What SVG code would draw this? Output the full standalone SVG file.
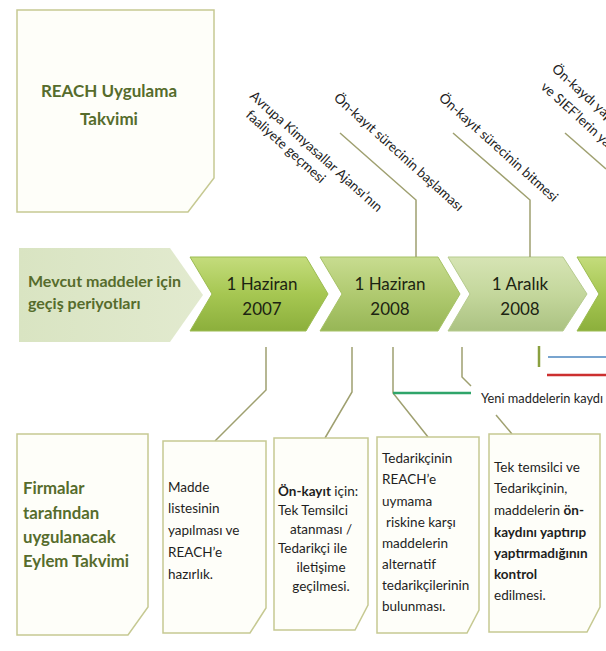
<svg xmlns="http://www.w3.org/2000/svg" width="606" height="651" viewBox="0 0 606 651">
<defs>
<linearGradient id="g1" x1="0" y1="0" x2="0" y2="1">
<stop offset="0" stop-color="#c4dc7c"/><stop offset="0.5" stop-color="#a6c752"/><stop offset="1" stop-color="#8caf3c"/>
</linearGradient>
<linearGradient id="g2" x1="0" y1="0" x2="0" y2="1">
<stop offset="0" stop-color="#c8dc90"/><stop offset="0.5" stop-color="#b0ca70"/><stop offset="1" stop-color="#97b656"/>
</linearGradient>
<linearGradient id="g3" x1="0" y1="0" x2="0" y2="1">
<stop offset="0" stop-color="#d6e4b4"/><stop offset="0.5" stop-color="#c4d79c"/><stop offset="1" stop-color="#abc282"/>
</linearGradient>
<linearGradient id="gb" x1="0" y1="0" x2="1" y2="0">
<stop offset="0" stop-color="#d9e4c2"/><stop offset="1" stop-color="#e2eacf"/>
</linearGradient>
</defs>
<style>
.box{fill:#fefef9;stroke:#c6c992;stroke-width:1.5}
.ln{fill:none;stroke:#9fa070;stroke-width:1.5}
.t{font-family:Lato,"Liberation Sans",sans-serif;fill:#1e1e1e}
.bt{font-size:13.5px}
.rt{font-size:13.5px}
.dt{font-size:17px;fill:#1c2412}
.h{font-weight:bold;fill:#566c2c}
.b{font-weight:bold}
</style>
<rect width="606" height="651" fill="#ffffff"/>

<g id="title-box">
<polygon class="box" points="17,10 214,10 214,178 188,212 17,212"/>
<text class="t h" x="109" y="97" font-size="17" text-anchor="middle">REACH Uygulama</text>
<text class="t h" x="109" y="125" font-size="17" text-anchor="middle">Takvimi</text>
</g>

<g id="annotations">
<text class="t rt" transform="translate(249,97) rotate(42)">Avrupa Kimyasallar Ajansı’nın</text>
<text class="t rt" transform="translate(245,116) rotate(42)">faaliyete geçmesi</text>
<text class="t rt" transform="translate(333,99) rotate(42)">Ön-kayıt sürecinin başlaması</text>
<text class="t rt" transform="translate(438,99) rotate(42)">Ön-kayıt sürecinin bitmesi</text>
<text class="t rt" transform="translate(551,70) rotate(42)">Ön-kaydı yap</text>
<text class="t rt" transform="translate(540,88) rotate(42)">ve SIEF’lerin ya</text>
</g>

<g id="banner">
<polygon points="19,248 170,248 203,295 170,342 19,342" fill="url(#gb)"/>
<text class="t h" x="28" y="287" font-size="16">Mevcut maddeler için</text>
<text class="t h" x="28" y="309" font-size="16">geçiş periyotları</text>
</g>

<g id="chevron-2007">
<polygon points="190,257 306,257 328,294 306,331 190,331 212,294" fill="url(#g1)" stroke="#9cbc52" stroke-width="1"/>
<text class="t dt" x="262" y="290" text-anchor="middle">1 Haziran</text>
<text class="t dt" x="262" y="315" text-anchor="middle">2007</text>
</g>
<g id="chevron-2008a">
<polygon points="320,257 438,257 460,294 438,331 320,331 342,294" fill="url(#g2)" stroke="#a6c266" stroke-width="1"/>
<text class="t dt" x="390" y="290" text-anchor="middle">1 Haziran</text>
<text class="t dt" x="390" y="315" text-anchor="middle">2008</text>
</g>
<g id="chevron-2008b">
<polygon points="448,257 563,257 587,294 563,331 448,331 470,294" fill="url(#g3)" stroke="#b6cb8e" stroke-width="1"/>
<text class="t dt" x="520" y="290" text-anchor="middle">1 Aralık</text>
<text class="t dt" x="520" y="315" text-anchor="middle">2008</text>
</g>
<g id="chevron-next">
<polygon points="577,257 620,257 620,331 577,331 599,294" fill="url(#g1)" stroke="#9cbc52" stroke-width="1"/>
</g>

<g id="connectors">
<polyline class="ln" points="340,133 416,200 416,257"/>
<polyline class="ln" points="453,133 530,200 530,257"/>
<polyline class="ln" points="565,133 606,169"/>
<polyline class="ln" points="266,347 266,390 215,441"/>
<polyline class="ln" points="352,347 352,392 325,438"/>
<polyline class="ln" points="393,347 393,393 428,437"/>
<polyline class="ln" points="462,347 462,377 471,386"/>
<polyline class="ln" points="496,415 512,434"/>
<line x1="393" y1="393" x2="471" y2="393" stroke="#2fa56a" stroke-width="2.5"/>
<line x1="539" y1="346" x2="539" y2="367" stroke="#8aa040" stroke-width="2.5"/>
<line x1="548" y1="357" x2="606" y2="357" stroke="#78a4cf" stroke-width="2"/>
<line x1="547" y1="375" x2="606" y2="375" stroke="#cc2f2f" stroke-width="2.5"/>
</g>

<g id="new-substances">
<text class="t" x="481" y="403" font-size="12.8">Yeni maddelerin kaydı</text>
</g>

<g id="action-box">
<polygon class="box" points="17,434 148,434 148,607 128,635 17,635"/>
<text class="t h" x="23" y="494" font-size="16.8">Firmalar</text>
<text class="t h" x="23" y="519" font-size="16.8">tarafından</text>
<text class="t h" x="23" y="543" font-size="16.8">uygulanacak</text>
<text class="t h" x="23" y="567" font-size="16.8">Eylem Takvimi</text>
</g>

<g id="box-1">
<polygon class="box" points="163,441 266,441 266,608 250,633 163,633"/>
<text class="t bt" x="168" y="492">Madde</text>
<text class="t bt" x="168" y="513">listesinin</text>
<text class="t bt" x="168" y="535">yapılması ve</text>
<text class="t bt" x="168" y="557">REACH’e</text>
<text class="t bt" x="168" y="579">hazırlık.</text>
</g>

<g id="box-2">
<polygon class="box" points="274,438 368,438 368,605 355,630 274,630"/>
<text class="t bt" x="278" y="496"><tspan class="b">Ön-kayıt</tspan> için:</text>
<text class="t bt" x="278" y="515">Tek Temsilci</text>
<text class="t bt" x="321" y="534" text-anchor="middle">atanması /</text>
<text class="t bt" x="278" y="553">Tedarikçi ile</text>
<text class="t bt" x="321" y="572" text-anchor="middle">iletişime</text>
<text class="t bt" x="321" y="591" text-anchor="middle">geçilmesi.</text>
</g>

<g id="box-3">
<polygon class="box" points="377,437 479,437 479,610 467,633 377,633"/>
<text class="t bt" x="382" y="463">Tedarikçinin</text>
<text class="t bt" x="382" y="484">REACH’e</text>
<text class="t bt" x="382" y="506">uymama</text>
<text class="t bt" x="386" y="527">riskine karşı</text>
<text class="t bt" x="382" y="548">maddelerin</text>
<text class="t bt" x="382" y="569">alternatif</text>
<text class="t bt" x="382" y="590">tedarikçilerinin</text>
<text class="t bt" x="382" y="611">bulunması.</text>
</g>

<g id="box-4">
<polygon class="box" points="489,434 600,434 600,607 587,632 489,632"/>
<text class="t bt" x="494" y="472">Tek temsilci ve</text>
<text class="t bt" x="494" y="493">Tedarikçinin,</text>
<text class="t bt" x="494" y="515">maddelerin <tspan class="b">ön-</tspan></text>
<text class="t bt b" x="494" y="537">kaydını yaptırıp</text>
<text class="t bt b" x="494" y="558">yaptırmadığının</text>
<text class="t bt b" x="494" y="579">kontrol</text>
<text class="t bt" x="494" y="600">edilmesi.</text>
</g>
</svg>
